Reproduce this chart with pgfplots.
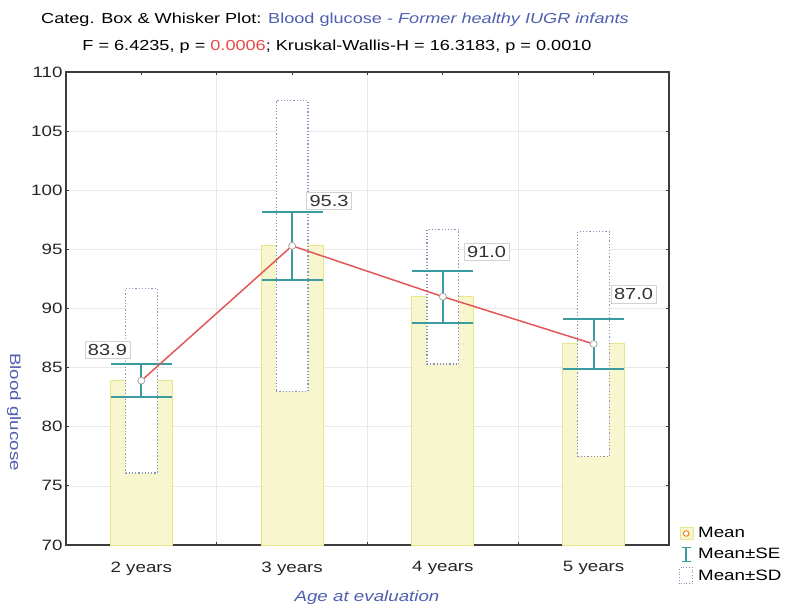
\documentclass[border=0pt]{standalone}
\usepackage{fontspec}
\setmainfont{Liberation Sans}[FakeStretch=1.25]
\usepackage{pgfplots}
\pgfplotsset{compat=1.18}
\definecolor{barfill}{HTML}{F8F6CF}
\definecolor{bardraw}{HTML}{E9E68A}
\definecolor{secol}{HTML}{3A9CA0}
\definecolor{sdcol}{HTML}{8A91B8}
\definecolor{meancol}{HTML}{E25858}
\definecolor{labblue}{HTML}{4F5FB0}
\definecolor{axcol}{HTML}{3C3C3C}
\definecolor{gridcol}{HTML}{E8E8E8}
\definecolor{pred}{HTML}{E84848}
\begin{document}
\begin{tikzpicture}[font=\fontsize{15}{18}\selectfont]
\path[use as bounding box] (-66pt,-66pt) rectangle (719pt,545pt);
\begin{axis}[
  at={(0,0)}, anchor=south west,
  scale only axis, width=603pt, height=473pt,
  xmin=0.5, xmax=4.5, ymin=70, ymax=110,
  xtick={1,2,3,4}, xticklabels={2 years,3 years,4 years,5 years},
  minor xtick={1.5,2.5,3.5},
  ytick={70,75,...,110},
  ymajorgrids, xminorgrids,
  grid style={gridcol, line width=0.6pt},
  minor grid style={gridcol, line width=0.6pt},
  axis line style={axcol, line width=1.5pt},
  tick style={axcol, line width=1pt},
  major tick length=3pt, minor tick length=3pt,
  tick align=inside,
  ticklabel style={font=\fontsize{15}{18}\selectfont, text=black!85},
  xticklabel style={yshift=-13pt},
  /pgf/number format/assume math mode=true,
  legend style={at={(1,0)}, anchor=west, xshift=10pt, yshift=-10pt, draw=none, fill=none, font=\fontsize{15}{18}\selectfont, row sep=5pt, inner sep=0pt, nodes={inner xsep=5pt}},
  legend cell align=left,
]
\addlegendimage{legend image code/.code={\draw[fill=barfill, draw=bardraw] (0pt,-6pt) rectangle (13pt,6pt); \draw[orange!80!red, fill=white, line width=0.8pt] (6.5pt,0pt) circle (2.8pt);}}
\addlegendimage{legend image code/.code={\draw[secol, line width=1.5pt] (2pt,-7pt)--(11pt,-7pt) (6.5pt,-7pt)--(6.5pt,7pt) (2pt,7pt)--(11pt,7pt);}}
\addlegendimage{legend image code/.code={\draw[sdcol, dash pattern=on 1pt off 1.8pt, line width=1pt] (0pt,-8pt) rectangle (13pt,8pt);}}
\legend{Mean, Mean±SE, Mean±SD}

% bars = mean
\addplot[ybar, bar width=62pt, fill=barfill, draw=bardraw, line width=1pt] coordinates {(1,83.9) (2,95.3) (3,91.0) (4,87.0)};

% SD boxes (mean - SD to mean + SD)
\pgfplotsset{sdbox/.style={draw=sdcol, dash pattern=on 1.2pt off 2pt, line width=1.3pt, fill=white}}
\addplot[sdbox] coordinates {(0.895,76.1) (1.105,76.1) (1.105,91.7) (0.895,91.7)} -- cycle;
\addplot[sdbox] coordinates {(1.895,83.0) (2.105,83.0) (2.105,107.6) (1.895,107.6)} -- cycle;
\addplot[sdbox] coordinates {(2.895,85.3) (3.105,85.3) (3.105,96.7) (2.895,96.7)} -- cycle;
\addplot[sdbox] coordinates {(3.895,77.5) (4.105,77.5) (4.105,96.5) (3.895,96.5)} -- cycle;

% SE error bars
\addplot[draw=none, mark=none, error bars/.cd, y dir=both, y explicit,
  error mark=|,
  error bar style={draw=secol, line width=2pt},
  error mark options={draw=secol, line width=2pt, mark size=30.5pt}]
  coordinates {(1,83.9) +- (0,1.4) (2,95.3) +- (0,2.85) (3,91.0) +- (0,2.2) (4,87.0) +- (0,2.1)};

% mean line
\addplot[meancol, line width=1.5pt, mark=*, mark size=3.5pt, mark options={fill=white, draw=gray!70, line width=0.8pt}] coordinates {(1,83.9) (2,95.3) (3,91.0) (4,87.0)};

\tikzset{lab/.style={draw=gray!35, fill=white, text=black!80, inner sep=3pt, font=\fontsize{16}{18}\selectfont}}
\node[lab] at (axis cs:0.775,86.5) {83.9};
\node[lab] at (axis cs:2.245,99.1) {95.3};
\node[lab] at (axis cs:3.29,94.8) {91.0};
\node[lab] at (axis cs:4.265,91.2) {87.0};
\end{axis}
\node[font=\fontsize{14.5}{17}\selectfont] at (269pt,525pt) {Categ. Box \& Whisker Plot: \textcolor{labblue}{Blood glucose - \textit{Former healthy IUGR infants}}};
\node[font=\fontsize{14.5}{17}\selectfont] at (271pt,498pt) {F = 6.4235, p = \textcolor{pred}{0.0006}; Kruskal-Wallis-H = 16.3183, p = 0.0010};
\node[rotate=-90, text=labblue] at (-52pt,133pt) {Blood glucose};
\node[text=labblue, font=\fontsize{15}{18}\selectfont\itshape] at (301pt,-53pt) {Age at evaluation};
\end{tikzpicture}
\end{document}
